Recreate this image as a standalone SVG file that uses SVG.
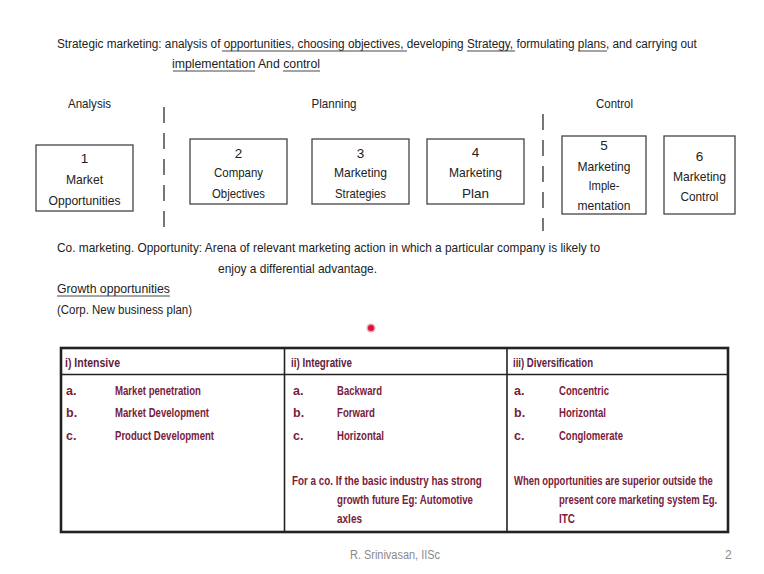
<svg xmlns="http://www.w3.org/2000/svg" width="764" height="574" viewBox="0 0 764 574">
<style>
.t{font-family:"Liberation Sans",Arial,sans-serif;font-size:13.5px;fill:#222}
.c{text-anchor:middle}
.box{fill:#fff;stroke:#444;stroke-width:1.3}
.ul{stroke:#333;stroke-width:0.9}
.dash{stroke:#555;stroke-width:1.6;stroke-dasharray:16 10;fill:none}
.tb{font-family:"Liberation Sans",Arial,sans-serif;font-size:12.5px;font-weight:bold;fill:#7a1b3c}
.th{fill:#5e1d3d}
.grid{stroke:#222;fill:none}
.ft{font-family:"Liberation Sans",Arial,sans-serif;font-size:12px;fill:#8a8a8a}
</style>
<rect width="764" height="574" fill="#fff"/>

<g id="title">
<text class="t" transform="translate(57,48) scale(0.86,1)" x="0" y="0" textLength="744" lengthAdjust="spacingAndGlyphs">Strategic marketing: analysis of opportunities, choosing objectives, developing Strategy, formulating plans, and carrying out</text>
<text class="t" x="172" y="68" textLength="148" lengthAdjust="spacingAndGlyphs">implementation And control</text>
<line class="ul" x1="222" y1="51" x2="407" y2="51"/>
<line class="ul" x1="467" y1="51" x2="515" y2="51"/>
<line class="ul" x1="578" y1="51" x2="607" y2="51"/>
<line class="ul" x1="173" y1="71" x2="255" y2="71"/>
<line class="ul" x1="283" y1="71" x2="320" y2="71"/>
</g>

<g id="phases">
<text class="t c" x="89.5" y="108" textLength="43" lengthAdjust="spacingAndGlyphs">Analysis</text>
<text class="t c" x="334" y="108" textLength="45" lengthAdjust="spacingAndGlyphs">Planning</text>
<text class="t c" x="614.5" y="108" textLength="37" lengthAdjust="spacingAndGlyphs">Control</text>
</g>

<g id="connectors">
<line class="dash" x1="164" y1="107" x2="164" y2="229"/>
<line class="dash" x1="543" y1="114" x2="543" y2="231"/>
</g>

<g id="n1">
<rect class="box" x="36" y="145" width="97" height="66"/>
<text class="t c" x="84.5" y="163">1</text>
<text class="t c" x="84.5" y="184" textLength="37" lengthAdjust="spacingAndGlyphs">Market</text>
<text class="t c" x="84.5" y="205" textLength="72" lengthAdjust="spacingAndGlyphs">Opportunities</text>
</g>
<g id="n2">
<rect class="box" x="190" y="139" width="97" height="65"/>
<text class="t c" x="238.5" y="158">2</text>
<text class="t c" x="238.5" y="177" textLength="49" lengthAdjust="spacingAndGlyphs">Company</text>
<text class="t c" x="238.5" y="198" textLength="53" lengthAdjust="spacingAndGlyphs">Objectives</text>
</g>
<g id="n3">
<rect class="box" x="312" y="139" width="97" height="65"/>
<text class="t c" x="360.5" y="158">3</text>
<text class="t c" x="360.5" y="177" textLength="53" lengthAdjust="spacingAndGlyphs">Marketing</text>
<text class="t c" x="360.5" y="198" textLength="51" lengthAdjust="spacingAndGlyphs">Strategies</text>
</g>
<g id="n4">
<rect class="box" x="427" y="139" width="97" height="65"/>
<text class="t c" x="475.5" y="157">4</text>
<text class="t c" x="475.5" y="177" textLength="53" lengthAdjust="spacingAndGlyphs">Marketing</text>
<text class="t c" x="475.5" y="198">Plan</text>
</g>
<g id="n5">
<rect class="box" x="562" y="136" width="84" height="78"/>
<text class="t c" x="604" y="150">5</text>
<text class="t c" x="604" y="171" textLength="53" lengthAdjust="spacingAndGlyphs">Marketing</text>
<text class="t c" x="604" y="190" textLength="31" lengthAdjust="spacingAndGlyphs">Imple-</text>
<text class="t c" x="604" y="210" textLength="53" lengthAdjust="spacingAndGlyphs">mentation</text>
</g>
<g id="n6">
<rect class="box" x="664" y="136" width="71" height="78"/>
<text class="t c" x="699.5" y="161">6</text>
<text class="t c" x="699.5" y="181" textLength="53" lengthAdjust="spacingAndGlyphs">Marketing</text>
<text class="t c" x="699.5" y="201" textLength="38" lengthAdjust="spacingAndGlyphs">Control</text>
</g>

<g id="definition">
<text class="t" x="57" y="252" textLength="543" lengthAdjust="spacingAndGlyphs">Co. marketing. Opportunity: Arena of relevant marketing action in which a particular company is likely to</text>
<text class="t" x="218" y="273" textLength="159" lengthAdjust="spacingAndGlyphs">enjoy a differential advantage.</text>
<text class="t" x="57" y="293" textLength="113" lengthAdjust="spacingAndGlyphs">Growth opportunities</text>
<line class="ul" x1="57" y1="296" x2="170" y2="296"/>
<text class="t" x="57" y="314" textLength="135" lengthAdjust="spacingAndGlyphs">(Corp. New business plan)</text>
</g>

<g id="pointer">
<circle cx="371" cy="328" r="4.5" fill="#f3a0a8"/>
<circle cx="371" cy="328" r="3" fill="#d4143a"/>
</g>

<g id="table">
<rect class="grid" x="61" y="348" width="667" height="184" stroke-width="2.6"/>
<line class="grid" x1="61" y1="374.5" x2="728" y2="374.5" stroke-width="1.6"/>
<line class="grid" x1="284.5" y1="348" x2="284.5" y2="532" stroke-width="1.6"/>
<line class="grid" x1="507" y1="348" x2="507" y2="532" stroke-width="1.6"/>

<text class="tb th" x="65" y="367" textLength="55" lengthAdjust="spacingAndGlyphs">i) Intensive</text>
<text class="tb th" x="291" y="367" textLength="61" lengthAdjust="spacingAndGlyphs">ii) Integrative</text>
<text class="tb th" x="513" y="367" textLength="80" lengthAdjust="spacingAndGlyphs">iii) Diversification</text>

<text class="tb" x="66" y="395">a.</text>
<text class="tb" x="66" y="417">b.</text>
<text class="tb" x="66" y="440">c.</text>
<text class="tb" x="115" y="395" textLength="86" lengthAdjust="spacingAndGlyphs">Market penetration</text>
<text class="tb" x="115" y="417" textLength="94" lengthAdjust="spacingAndGlyphs">Market Development</text>
<text class="tb" x="115" y="440" textLength="99" lengthAdjust="spacingAndGlyphs">Product Development</text>

<text class="tb" x="293" y="395">a.</text>
<text class="tb" x="293" y="417">b.</text>
<text class="tb" x="293" y="440">c.</text>
<text class="tb" x="337" y="395" textLength="45" lengthAdjust="spacingAndGlyphs">Backward</text>
<text class="tb" x="337" y="417" textLength="38" lengthAdjust="spacingAndGlyphs">Forward</text>
<text class="tb" x="337" y="440" textLength="47" lengthAdjust="spacingAndGlyphs">Horizontal</text>
<text class="tb" transform="translate(292,485) scale(0.7,1)" x="0" y="0" textLength="271" lengthAdjust="spacingAndGlyphs">For a co. If the basic industry has  strong</text>
<text class="tb" x="337" y="504" textLength="136" lengthAdjust="spacingAndGlyphs">growth future Eg: Automotive</text>
<text class="tb" x="337" y="523" textLength="25" lengthAdjust="spacingAndGlyphs">axles</text>

<text class="tb" x="514" y="395">a.</text>
<text class="tb" x="514" y="417">b.</text>
<text class="tb" x="514" y="440">c.</text>
<text class="tb" x="559" y="395" textLength="50" lengthAdjust="spacingAndGlyphs">Concentric</text>
<text class="tb" x="559" y="417" textLength="47" lengthAdjust="spacingAndGlyphs">Horizontal</text>
<text class="tb" x="559" y="440" textLength="64" lengthAdjust="spacingAndGlyphs">Conglomerate</text>
<text class="tb" transform="translate(514,485) scale(0.7,1)" x="0" y="0" textLength="284" lengthAdjust="spacingAndGlyphs">When opportunities are superior outside the</text>
<text class="tb" transform="translate(559,504) scale(0.7,1)" x="0" y="0" textLength="226" lengthAdjust="spacingAndGlyphs">present core marketing system Eg.</text>
<text class="tb" x="559" y="523" textLength="16" lengthAdjust="spacingAndGlyphs">ITC</text>
</g>

<g id="footer">
<text class="ft" x="350" y="559" textLength="90" lengthAdjust="spacingAndGlyphs">R. Srinivasan, IISc</text>
<text class="ft" x="725" y="559">2</text>
</g>
</svg>
